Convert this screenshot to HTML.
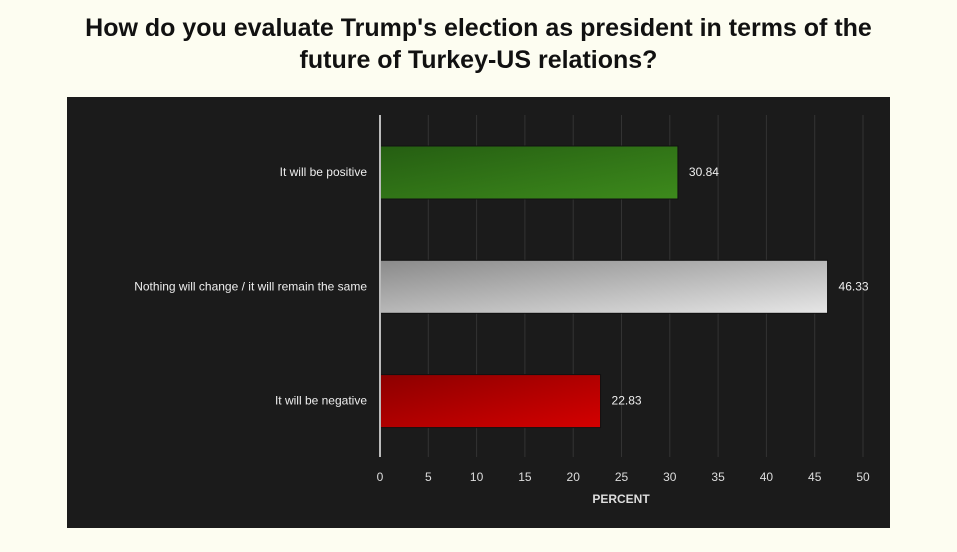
<!DOCTYPE html>
<html><head><meta charset="utf-8"><style>
body{margin:0;background:#fdfdf1;width:957px;height:552px;overflow:hidden;font-family:"Liberation Sans",sans-serif}
h1{margin:0;position:absolute;top:12px;left:0;width:957px;text-align:center;font-size:25px;line-height:32px;font-weight:bold;color:#111}
svg{position:absolute;left:0;top:0}
</style></head><body>
<h1>How do you evaluate Trump's election as president in terms of the<br>future of Turkey-US relations?</h1>
<svg width="957" height="552">
<defs>
<linearGradient id="gg" x1="0" y1="0" x2="1" y2="1"><stop offset="0" stop-color="#255e12"/><stop offset="1" stop-color="#3d8a1c"/></linearGradient>
<linearGradient id="gw" x1="0" y1="0" x2="1" y2="1"><stop offset="0" stop-color="#8a8a8a"/><stop offset="1" stop-color="#e6e6e6"/></linearGradient>
<linearGradient id="gr" x1="0" y1="0" x2="1" y2="1"><stop offset="0" stop-color="#8c0000"/><stop offset="1" stop-color="#d40000"/></linearGradient>
</defs>
<rect x="67" y="97" width="823" height="431" fill="#1b1b1b"/>
<g id="grid"></g><g id="bars"></g><g id="ticks"></g>
<line x1="380" y1="115" x2="380" y2="457" stroke="#bbb" stroke-width="2"/>
<text x="621" y="503" fill="#ddd" font-size="12" font-weight="bold" text-anchor="middle">PERCENT</text>
</svg>
<script>
const categories=["It will be positive","Nothing will change / it will remain the same","It will be negative"];
const values=[30.84,46.33,22.83];
const labels=["30.84","46.33","22.83"];
const tickLabels=[0,5,10,15,20,25,30,35,40,45,50];
const fills=["url(#gg)","url(#gw)","url(#gr)"];
const NS="http://www.w3.org/2000/svg";
const x=v=>380+v*9.66;
const yc=i=>172+i*114.3;
function mk(t,a,p){const e=document.createElementNS(NS,t);for(const k in a)e.setAttribute(k,a[k]);p.appendChild(e);return e;}
const G=document.getElementById('grid'),B=document.getElementById('bars'),T=document.getElementById('ticks');
tickLabels.forEach(t=>{
 if(t>0){const l=mk('line',{x1:x(t),x2:x(t),y1:115,y2:457,stroke:'#333','stroke-width':1},G);
 
 }
 const tx=mk('text',{x:x(t),y:481,fill:'#ddd','font-size':12,'text-anchor':'middle'},T);tx.textContent=t;
 
 
});
categories.forEach((c,i)=>{
 const r=mk('rect',{x:380,y:yc(i)-26,width:x(values[i])-380,height:53,fill:fills[i],stroke:'#111','stroke-width':1},B);
 
 
 const lb=mk('text',{x:367,y:yc(i)+4,fill:'#eee','font-size':12,'text-anchor':'end'},B);lb.textContent=c;
 
 
 const v=mk('text',{x:x(values[i])+11,y:yc(i)+4,fill:'#eee','font-size':12},B);v.textContent=labels[i];
 
 
});
</script>
</body></html>
